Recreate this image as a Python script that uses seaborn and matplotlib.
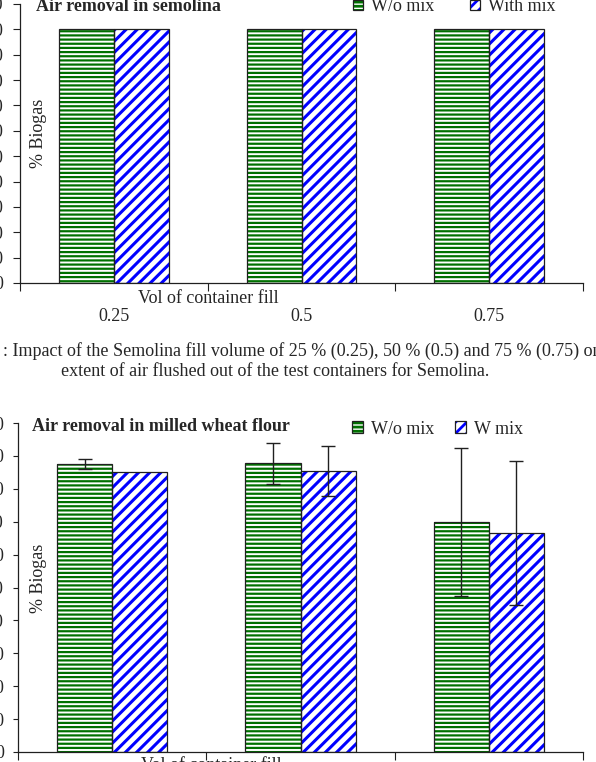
import numpy as np
import pandas as pd
import matplotlib
matplotlib.use("Agg")
import matplotlib.pyplot as plt
from matplotlib.patches import Patch, Rectangle
import seaborn as sns

fill_levels = ['0.25', '0.5', '0.75']
mix_top = ['W/o mix', 'With mix']
mix_bottom = ['W/o mix', 'W mix']

semolina_womix = [100, 100, 100]
semolina_wmix = [100, 100, 100]

flour_womix = [87.6, 87.8, 69.9]
flour_wmix = [85.1, 85.4, 66.6]
flour_womix_err = [1.5, 6.2, 22.6]
flour_wmix_err = [0.0, 7.6, 21.9]

green = '#007000'
blue = '#0000ff'
edge = '#202020'

sns.set_style("ticks")
plt.rcParams['font.family'] = ['Liberation Serif', 'DejaVu Serif']
plt.rcParams['hatch.linewidth'] = 2.0

W, H = 596, 762
fig = plt.figure(figsize=(W / 100, H / 100), dpi=100)
ax1 = fig.add_axes([20 / W, 1 - 283 / H, 563 / W, 279 / H])
ax2 = fig.add_axes([18 / W, 1 - 752 / H, 565 / W, 329 / H])

# colour, hatch, hatch line width
styles = [(green, '----', 1.6), (blue, '///', 2.2)]


def hatched(p, col, hat, hlw):
    p.set_facecolor('white')
    p.set_edgecolor(col)
    p.set_linewidth(0)
    p.set_hatch(hat)
    if hasattr(p, 'set_hatch_linewidth'):
        p.set_hatch_linewidth(hlw)
    return p


def draw_panel(ax, womix, wmix, labels, ymax, errs=(None, None)):
    df = pd.DataFrame({
        'fill': fill_levels * 2,
        'mix': [labels[0]] * 3 + [labels[1]] * 3,
        'value': list(womix) + list(wmix),
    })
    sns.barplot(data=df, x='fill', y='value', hue='mix', order=fill_levels,
                hue_order=labels, palette=['white', 'white'], saturation=1,
                width=0.586, errorbar=None, legend=False, ax=ax)
    for cont, (col, hat, hlw), err in zip(ax.containers, styles, errs):
        for bar in cont:
            hatched(bar, col, hat, hlw)
            ax.add_patch(Rectangle(bar.get_xy(), bar.get_width(), bar.get_height(),
                                   fill=False, edgecolor=edge, linewidth=0.9, zorder=3))
        if err is not None:
            xs = [b.get_x() + b.get_width() / 2 for b in cont]
            ys = [b.get_height() for b in cont]
            keep = [i for i, e in enumerate(err) if e > 0]
            ax.errorbar([xs[i] for i in keep], [ys[i] for i in keep],
                        yerr=[err[i] for i in keep], fmt='none', ecolor=edge,
                        elinewidth=1, capsize=5, capthick=1, zorder=4)

    ax.set_xlim(-0.5, 2.5)
    ax.set_ylim(0, ymax)
    ax.set_yticks(np.arange(0, ymax + 1, 10))
    ax.set_xticks([-0.5, 0.5, 1.5, 2.5], minor=True)
    ax.tick_params(axis='x', which='major', length=0, pad=18, labelsize=13)
    ax.tick_params(axis='x', which='minor', length=6, width=0.8, color=edge)
    ax.tick_params(axis='y', length=5, width=0.8, color=edge, pad=7, labelsize=13)
    for s in ['top', 'right']:
        ax.spines[s].set_visible(False)
    for s in ['left', 'bottom']:
        ax.spines[s].set_color(edge)
        ax.spines[s].set_linewidth(0.9)
    ax.set_ylabel('% Biogas', fontsize=13)
    ax.set_xlabel('Vol of container fill', fontsize=13)
    ax.xaxis.label.set_va('baseline')


draw_panel(ax1, semolina_womix, semolina_wmix, mix_top, 110)
draw_panel(ax2, flour_womix, flour_wmix, mix_bottom, 100,
           errs=(flour_womix_err, flour_wmix_err))

ax1.xaxis.set_label_coords(0.334, -0.0717)
ax1.yaxis.set_label_coords(0.048, 0.538)
ax2.xaxis.set_label_coords(0.342, -0.055)
ax2.yaxis.set_label_coords(0.051, 0.529)
ax2.tick_params(axis='y', length=3.6, pad=6.5)


def legend_handles():
    return [(hatched(Patch(), c, h, lw),
             Patch(fill=False, edgecolor=edge, linewidth=0.9)) for c, h, lw in styles]


fig.legend(legend_handles(), mix_top, loc='center', bbox_to_anchor=(0.7626, 0.991),
           ncol=2, frameon=False, fontsize=13, handlelength=0.55, handleheight=0.55,
           handletextpad=0.45, columnspacing=2.0, borderpad=0, borderaxespad=0)
fig.legend(legend_handles(), mix_bottom, loc='center', bbox_to_anchor=(0.734, 0.437),
           ncol=2, frameon=False, fontsize=13, handlelength=0.6, handleheight=0.6,
           handletextpad=0.45, columnspacing=1.15, borderpad=0, borderaxespad=0)

fig.text(36 / W, 1 - 11 / H, 'Air removal in semolina', fontsize=13,
         fontweight='bold', va='baseline')
fig.text(32 / W, 1 - 431 / H, 'Air removal in milled wheat flour', fontsize=13,
         fontweight='bold', va='baseline')

fig.text(3 / W, 1 - 356 / H,
         ': Impact of the Semolina fill volume of 25 % (0.25), 50 % (0.5) and 75 % (0.75) on',
         fontsize=13, va='baseline', ha='left')
fig.text(275 / W, 1 - 376 / H,
         'extent of air flushed out of the test containers for Semolina.',
         fontsize=13, va='baseline', ha='center')

fig.savefig('out.png', dpi=100)
